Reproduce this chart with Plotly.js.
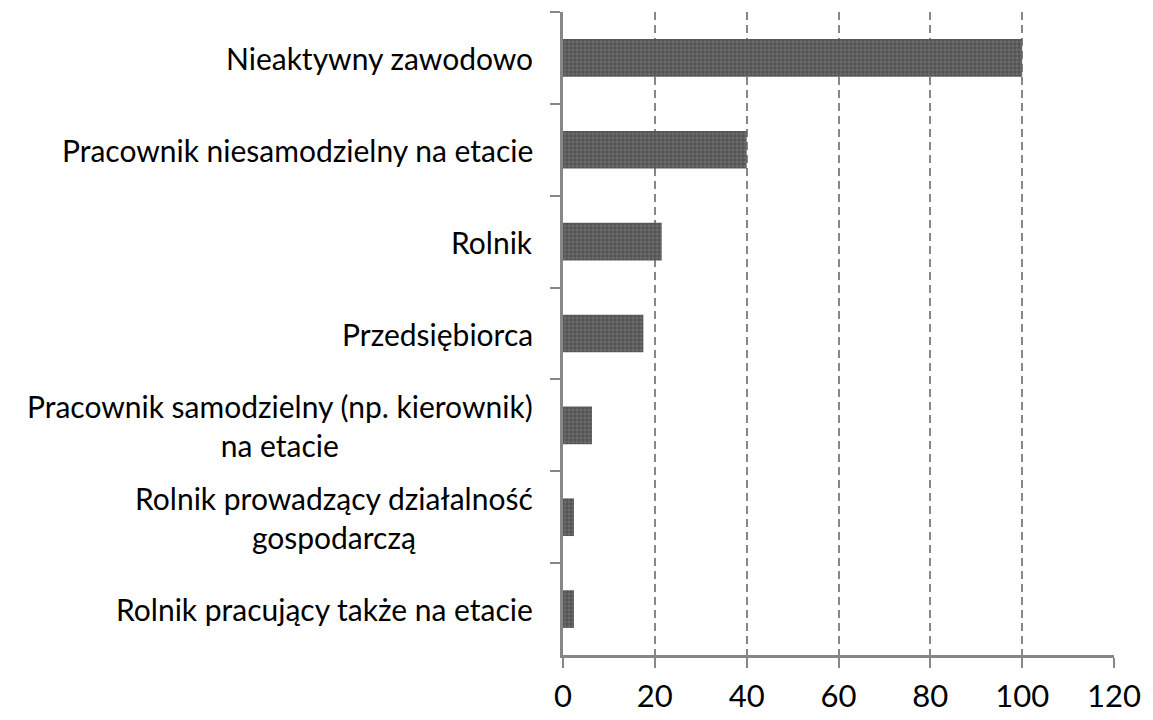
<!DOCTYPE html>
<html>
<head>
<meta charset="utf-8">
<script src="https://cdn.plot.ly/plotly-3.0.1.min.js"></script>
<style>html,body{margin:0;padding:0;background:#fff;}#chart{width:1153px;height:720px;}</style>
</head>
<body>
<div id="chart"></div>
<script>
const categories = [
  "Nieaktywny zawodowo",
  "Pracownik niesamodzielny na etacie",
  "Rolnik",
  "Przedsiębiorca",
  "Pracownik samodzielny (np. kierownik)<br>na etacie",
  "Rolnik prowadzący działalność<br>gospodarczą",
  "Rolnik pracujący także na etacie"
];
const values = [100, 40, 21.5, 17.5, 6.3, 2.4, 2.4];
const xTicks = [0, 20, 40, 60, 80, 100, 120];

const FONT = "Lato, 'Open Sans', sans-serif";
const GRAY = "#878787";

const trace = {
  type: "bar",
  orientation: "h",
  y: categories,
  x: values,
  marker: {
    color: "#555555",
    line: {width: 0},
    pattern: {shape: ".", fgcolor: "#6c6c6c", bgcolor: "#555555", size: 4, solidity: 0.4}
  },
  hoverinfo: "x+y"
};

const annotations = categories.map(c => ({
  xref: "paper", yref: "y", x: 0, y: c,
  xanchor: "right", yanchor: "middle", xshift: -28,
  text: c, showarrow: false, align: "center",
  font: {family: FONT, size: 30, color: "#000"}
}));

const layout = {
  width: 1153, height: 720,
  margin: {l: 563, r: 39, t: 12, b: 65},
  paper_bgcolor: "#fff", plot_bgcolor: "#fff",
  showlegend: false,
  bargap: 0.59,
  xaxis: {
    range: [0, 120], tickvals: xTicks, ticktext: xTicks.map(String),
    showgrid: true, gridcolor: GRAY, gridwidth: 2, griddash: "8px,5px",
    zeroline: false, showline: true, linecolor: GRAY, linewidth: 2.5,
    ticks: "outside", ticklen: 10, tickwidth: 2, tickcolor: GRAY,
    ticklabelstandoff: 2,
    tickfont: {family: FONT, size: 31, color: "#000"}
  },
  yaxis: {
    type: "category", autorange: "reversed",
    showticklabels: false, showgrid: false, zeroline: false,
    showline: true, linecolor: GRAY, linewidth: 3,
    ticks: "outside", tickson: "boundaries", ticklen: 10, tickwidth: 2, tickcolor: GRAY
  },
  annotations: annotations
};

Plotly.newPlot("chart", [trace], layout, {displayModeBar: false, staticPlot: true});
</script>
</body>
</html>
